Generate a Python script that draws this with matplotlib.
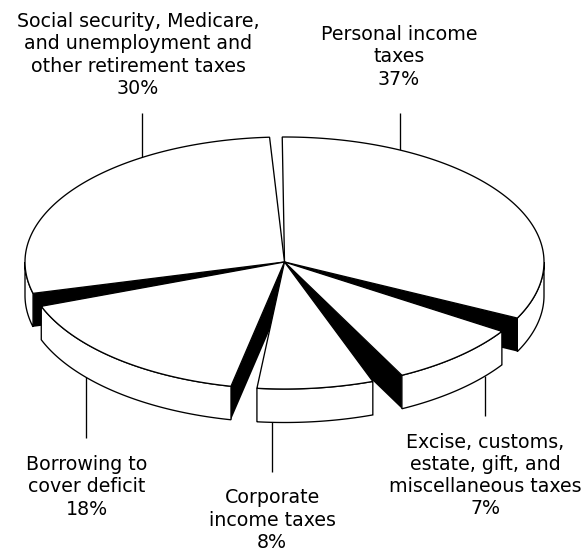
import numpy as np
import matplotlib
matplotlib.use("Agg")
import matplotlib.pyplot as plt

# =========================================================
# DATA
# =========================================================

labels = [
    "Personal income\ntaxes",
    "Social security, Medicare,\nand unemployment and\nother retirement taxes",
    "Excise, customs,\nestate, gift, and\nmiscellaneous taxes",
    "Borrowing to\ncover deficit",
    "Corporate\nincome taxes",
]
shares = [37, 30, 7, 18, 8]

# wedge edges as drawn in the picture (degrees on the ellipse)
wedge_start = [-26.2, 93.3, -63.1, 200.4, -96.1]
wedge_end = [90.5, 194.3, -33.1, 258.1, -70.1]
dark_edge = [-26.2, 194.3, -63.1, 258.1, None]

# =========================================================
# LAYOUT
# =========================================================

W, H = 583, 552
CX, CY = 284.5, 262
RX = 259.5
RY_BACK, RY_FRONT = 125, 127
DEPTH = 33.5
LW = 0.95

label_x = [399, 138, 485.5, 87, 272]
label_y = [57, 55, 475.5, 487, 520]
leader_x = [399.7, 142, 485, 86, 272]
leader_end = [113, 113, 416, 438, 472]


def arc(t0, t1, drop=0):
    t = np.radians(np.linspace(t0, t1, 200))
    s = np.sin(t)
    ry = np.where(s > 0, RY_BACK, RY_FRONT)
    return CX + RX * np.cos(t), CY - ry * s + drop


def rim_y(x, drop=0, top=True):
    s = np.sqrt(1 - ((x - CX) / RX) ** 2)
    return CY - RY_BACK * s if top else CY + RY_FRONT * s + drop


fig = plt.figure(figsize=(W / 100, H / 100), dpi=100, facecolor="white")
ax = fig.add_axes([0, 0, 1, 1])
ax.set_xlim(0, W)
ax.set_ylim(H, 0)
ax.axis("off")

# leader lines sit behind the pie
for x, end in zip(leader_x, leader_end):
    start = rim_y(x) if end < CY else rim_y(x, DEPTH, top=False)
    ax.plot([x, x], [start, end], color="black", lw=LW, solid_capstyle="butt", zorder=1)

# =========================================================
# WEDGES (back to front)
# =========================================================

for i in range(len(shares)):
    t0, t1 = wedge_start[i], wedge_end[i]
    z = 2 + i

    # black cut face
    if dark_edge[i] is not None:
        ex, ey = arc(dark_edge[i], dark_edge[i] + 1e-6)
        ax.fill([CX, ex[0], ex[0], CX], [CY, ey[0], ey[0] + DEPTH, CY + DEPTH],
                color="black", lw=0, zorder=z)

    # outer wall, only where it faces the viewer
    if t0 < 0:
        lo, hi = t0, min(t1, 0)
    else:
        lo, hi = max(t0, 180), t1
    if hi > lo:
        x_top, y_top = arc(lo, hi)
        x_bot, y_bot = arc(lo, hi, DEPTH)
        ax.fill(np.r_[x_top, x_bot[::-1]], np.r_[y_top, y_bot[::-1]],
                facecolor="white", edgecolor="black", lw=LW, zorder=z)

    # top face
    x_top, y_top = arc(t0, t1)
    ax.fill(np.r_[CX, x_top], np.r_[CY, y_top],
            facecolor="white", edgecolor="black", lw=LW, joinstyle="miter", zorder=z)

# =========================================================
# LABELS
# =========================================================

for i in range(len(shares)):
    ax.text(label_x[i], label_y[i], f"{labels[i]}\n{shares[i]}%",
            ha="center", va="center", ma="center", linespacing=1.22,
            fontsize=13.7, family="DejaVu Sans", color="black", zorder=10)

fig.savefig("out.png", dpi=100)
